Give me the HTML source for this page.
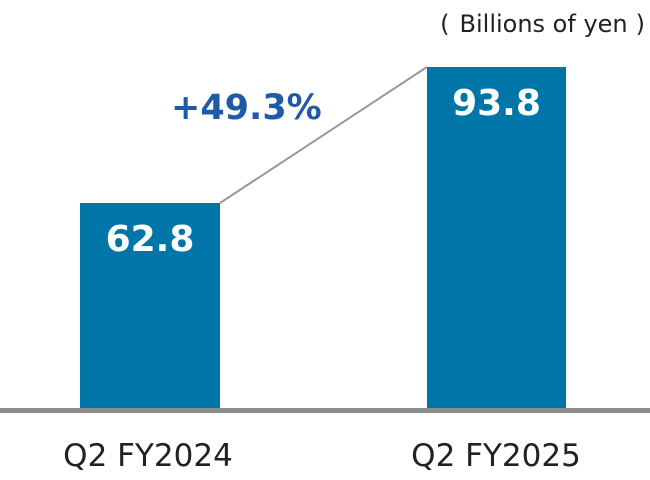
<!DOCTYPE html>
<html><head><meta charset="utf-8"><style>
html,body{margin:0;padding:0;background:#fff;}
body{width:650px;height:480px;position:relative;overflow:hidden;font-family:"DejaVu Sans","Liberation Sans",sans-serif;}
.bar{position:absolute;background:#0076a8;}
.t{position:absolute;white-space:nowrap;}
</style></head><body>
<svg width="650" height="480" style="position:absolute;left:0;top:0">
<line x1="220" y1="203" x2="427" y2="67" stroke="#999" stroke-width="2"/>
</svg>
<div class="bar" style="left:80px;top:203px;width:140px;height:208px"></div>
<div class="bar" style="left:427px;top:67px;width:139px;height:344px"></div>
<div style="position:absolute;left:0;top:408px;width:650px;height:5px;background:#8c8c8c"></div>
<div class="t" style="left:80px;width:140px;text-align:center;top:219px;color:#fff;font-weight:bold;font-size:36px">62.8</div>
<div class="t" style="left:427px;width:139px;text-align:center;top:83px;color:#fff;font-weight:bold;font-size:36px">93.8</div>
<div class="t" style="left:171px;top:88px;color:#1f5aa6;font-weight:bold;font-size:35px">+49.3%</div>
<div class="t" style="right:5px;top:10px;color:#222;font-size:24px">(<span style="margin:0 8px 0 10px">Billions of yen</span>)</div>
<div class="t" style="left:30px;width:236px;text-align:center;top:438px;color:#222;font-size:31px">Q2 FY2024</div>
<div class="t" style="left:378px;width:236px;text-align:center;top:438px;color:#222;font-size:31px">Q2 FY2025</div>
</body></html>
